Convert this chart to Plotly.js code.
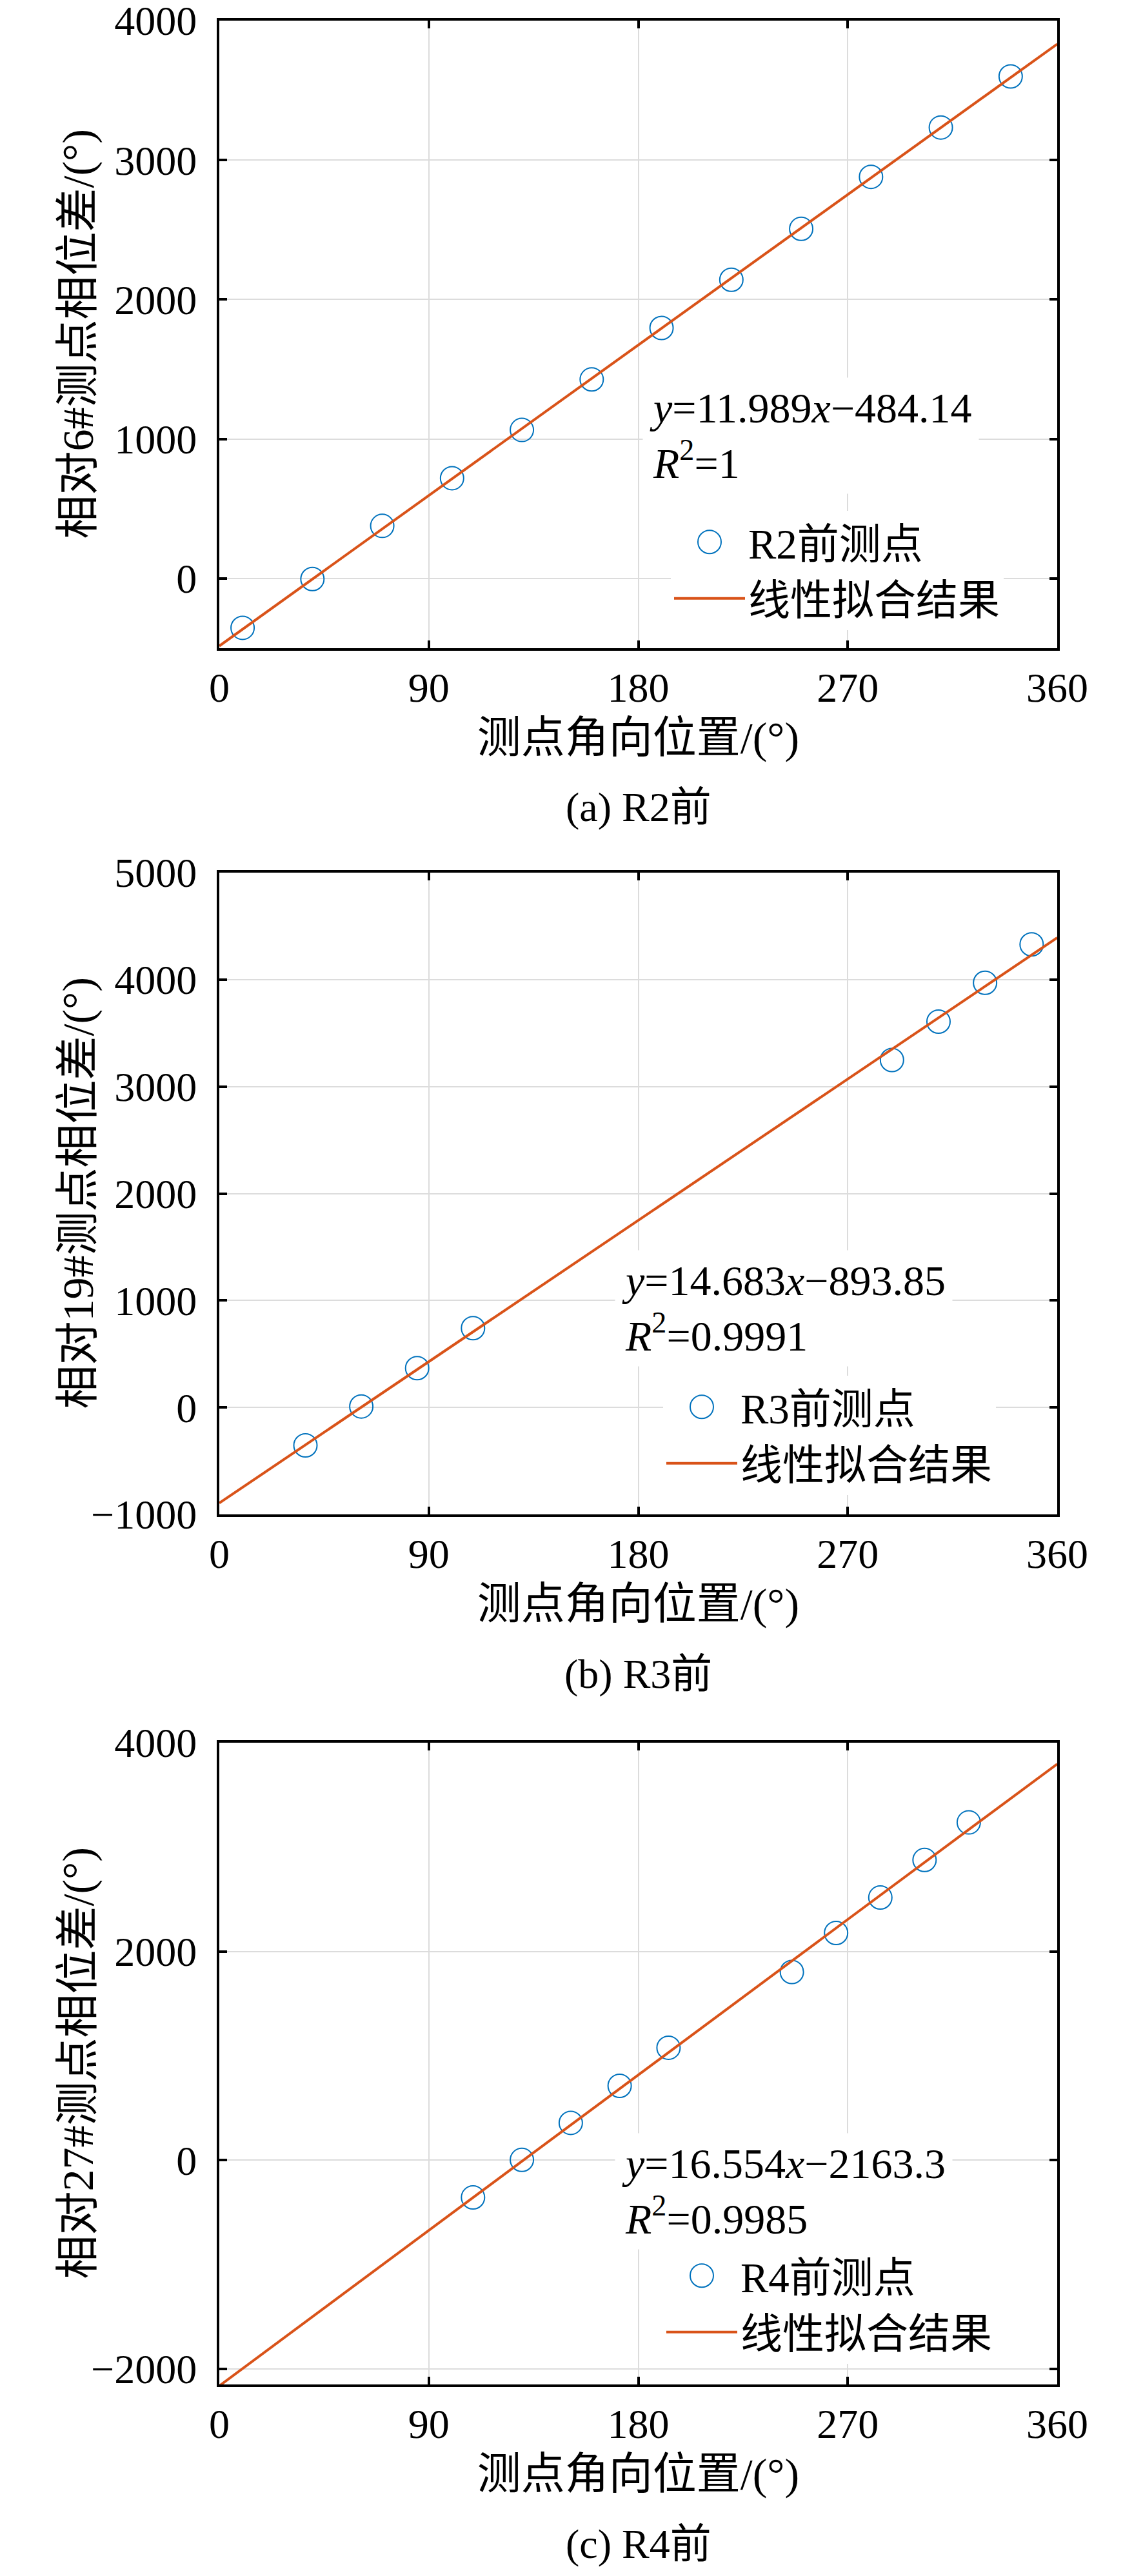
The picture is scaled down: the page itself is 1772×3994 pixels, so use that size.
<!DOCTYPE html>
<html>
<head>
<meta charset="utf-8">
<script src="https://cdn.plot.ly/plotly-3.0.1.min.js"></script>
<style>
  html, body { margin: 0; padding: 0; background: #fff; }
  #chart { width: 1772px; height: 3994px; }
</style>
</head>
<body>
<div id="chart"></div>
<script>
const xR2 = [10, 40, 70, 100, 130, 160, 190, 220, 250, 280, 310, 340];
const yR2 = [-354, -4, 377, 719, 1065, 1427, 1796, 2142, 2507, 2880, 3234, 3600];

const xR3 = [37, 61, 85, 109, 289, 309, 329, 349];
const yR3 = [-355, 9, 367, 741, 3248, 3607, 3970, 4329];

const xR4 = [109, 130, 151, 172, 193, 246, 265, 284, 303, 322];
const yR4 = [-358, 2, 357, 712, 1077, 1803, 2177, 2516, 2876, 3236];

// fitted lines, ends at 0 and 360 deg
const fitX = [0, 360];
const fitR2 = [-484.14, 3831.9];
const fitR3 = [-893.85, 4392.0];
const fitR4 = [-2163.3, 3796.1];

const xTicks = [0, 90, 180, 270, 360];
const yTicksA = [0, 1000, 2000, 3000, 4000];
const yTicksB = [-1000, 0, 1000, 2000, 3000, 4000, 5000];
const yTicksC = [-2000, 0, 2000, 4000];

const ptNames = ["R2前测点", "R3前测点", "R4前测点"];
const fitName = "线性拟合结果";
const yTitles = ["相对6#测点相位差/(°)", "相对19#测点相位差/(°)", "相对27#测点相位差/(°)"];
const xTitle = "测点角向位置/(°)";
const captions = ["(a) R2前", "(b) R3前", "(c) R4前"];
const equations = [
    "<i>y</i>=11.989<i>x</i>−484.14<br><i>R</i><sup>2</sup>=1",
    "<i>y</i>=14.683<i>x</i>−893.85<br><i>R</i><sup>2</sup>=0.9991",
    "<i>y</i>=16.554<i>x</i>−2163.3<br><i>R</i><sup>2</sup>=0.9985"
];

const W = 1772, H = 3994;
const FONT = "'Liberation Serif', 'Noto Sans CJK SC', serif";
const BLUE = "#0072BD", ORANGE = "#D95319";

// panel boxes in pixels: [top, bottom]
const panels = [[32, 1005], [1353, 2348], [2702, 3697]];
const xDom = [340 / W, 1639 / W];
const yRanges = [[-500, 4000], [-1000, 5000], [-2150, 4000]];
const yTickSets = [yTicksA, yTicksB, yTicksC];

const px = v => v / W;
const py = v => 1 - v / H;

const dataSets = [[xR2, yR2, fitR2], [xR3, yR3, fitR3], [xR4, yR4, fitR4]];

let traces = [];
let layout = {
    width: W, height: H,
    margin: {l: 0, r: 0, t: 0, b: 0},
    paper_bgcolor: "#fff",
    plot_bgcolor: "#fff",
    font: {family: FONT, size: 64, color: "#000"},
    showlegend: true,
    annotations: []
};

// legend / equation placement per panel (pixels)
const legendBox = [[1040, 884], [1028, 2225], [1028, 3572]];
const eqPos = [[996, 675], [953, 2028], [953, 3397]];

dataSets.forEach((d, i) => {
    const n = i === 0 ? "" : String(i + 1);
    const lg = "legend" + n;
    traces.push({
        x: d[0], y: d[1],
        xaxis: "x" + n, yaxis: "y" + n,
        mode: "markers", type: "scatter",
        name: ptNames[i], legend: lg,
        marker: {symbol: "circle-open", size: 36, color: BLUE, line: {width: 2, color: BLUE}}
    });
    traces.push({
        x: fitX, y: d[2],
        xaxis: "x" + n, yaxis: "y" + n,
        mode: "lines", type: "scatter",
        name: fitName, legend: lg,
        line: {color: ORANGE, width: 4}
    });

    const common = {
        showline: true, linecolor: "#000", linewidth: 4, mirror: "ticks",
        ticks: "inside", ticklen: 12, tickwidth: 4, tickcolor: "#000",
        showgrid: true, gridcolor: "#dcdcdc", gridwidth: 2,
        zeroline: false, automargin: false,
        ticklabeloverflow: "allow",
        tickfont: {family: FONT, size: 64, color: "#000"}
    };
    layout["xaxis" + n] = Object.assign({}, common, {
        domain: xDom, anchor: "y" + n,
        range: [0, 360], tickmode: "array", tickvals: xTicks,
        ticklabelstandoff: 2,
        title: {text: xTitle, font: {family: FONT, size: 68}, standoff: 20}
    });
    layout["yaxis" + n] = Object.assign({}, common, {
        domain: [py(panels[i][1]), py(panels[i][0])], anchor: "x" + n,
        range: yRanges[i], tickmode: "array", tickvals: yTickSets[i],
        tickformat: "d",
        ticklabelstandoff: 18
    });

    // y title as rotated text, all three sit on the same column
    layout.annotations.push({
        xref: "paper", yref: "paper",
        x: px(120), y: py((panels[i][0] + panels[i][1]) / 2),
        xanchor: "center", yanchor: "middle", textangle: -90,
        showarrow: false,
        text: yTitles[i],
        font: {family: FONT, size: 68, color: "#000"}
    });

    layout[lg] = {
        x: px(legendBox[i][0]), y: py(legendBox[i][1]),
        xanchor: "left", yanchor: "middle",
        bgcolor: "#fff", borderwidth: 0,
        itemwidth: 110,
        font: {family: FONT, size: 65, color: "#000"},
        traceorder: "normal"
    };

    layout.annotations.push({
        xref: "paper", yref: "paper",
        x: px(eqPos[i][0]), y: py(eqPos[i][1]),
        xanchor: "left", yanchor: "middle", align: "left",
        showarrow: false, bgcolor: "#fff", borderpad: 10,
        text: equations[i],
        font: {family: FONT, size: 66, color: "#000"}
    });
    layout.annotations.push({
        xref: "paper", yref: "paper",
        x: 0.5 * (xDom[0] + xDom[1]), y: py(panels[i][1] + 247),
        xanchor: "center", yanchor: "middle",
        showarrow: false,
        text: captions[i],
        font: {family: FONT, size: 64, color: "#000"}
    });
});

Plotly.newPlot("chart", traces, layout, {staticPlot: true}).then(() => {
    // legend markers are capped at 16px by plotly, enlarge them to match the plot
    document.querySelectorAll(".infolayer path.scatterpts").forEach(p => {
        p.setAttribute("d", "M18,0A18,18 0 1,1 0,-18A18,18 0 0,1 18,0Z");
        p.style.strokeWidth = "2px";
    });
});
</script>
</body>
</html>
